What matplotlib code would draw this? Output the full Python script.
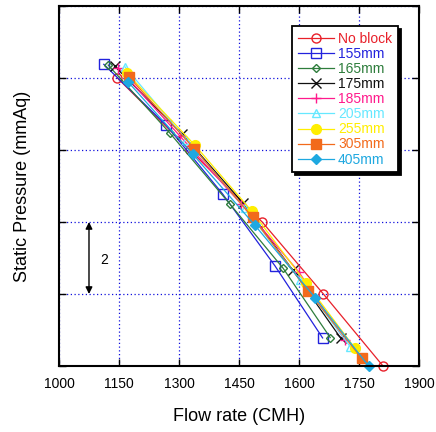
import matplotlib
matplotlib.use('Agg')
from matplotlib import pyplot as plt

plt.rcParams['font.family'] = ['Liberation Sans', 'DejaVu Sans']

# flow rate (CMH) vs static pressure (mmAq) for each block length
labels = ['No block', '155mm', '165mm', '175mm', '185mm', '205mm', '255mm', '305mm', '405mm']
flow = [
    [1146, 1327, 1508, 1661, 1810],
    [1112, 1268, 1409, 1540, 1659],
    [1123, 1278, 1428, 1560, 1678],
    [1139, 1308, 1460, 1584, 1704],
    [1148, 1303, 1456, 1599, 1715],
    [1165, 1318, 1465, 1603, 1728],
    [1170, 1340, 1482, 1618, 1740],
    [1174, 1338, 1484, 1623, 1757],
    [1172, 1334, 1489, 1640, 1774],
]
pressure = [
    [8.00, 6.00, 4.00, 2.00, 0.00],
    [8.38, 6.69, 4.78, 2.78, 0.78],
    [8.36, 6.46, 4.49, 2.72, 0.79],
    [8.33, 6.44, 4.53, 2.67, 0.78],
    [8.29, 6.38, 4.49, 2.62, 0.71],
    [8.31, 6.29, 4.38, 2.39, 0.54],
    [8.13, 6.13, 4.30, 2.30, 0.49],
    [8.04, 6.04, 4.13, 2.08, 0.21],
    [7.90, 5.89, 3.92, 1.90, 0.00],
]
colors = ['#e8202a', '#2222dd', '#2e7d3c', '#111111', '#ff1a8c',
          '#66e8ff', '#ffee00', '#f26a1b', '#1ea8e0']
markers = ['o', 's', 'D', 'x', '+', '^', 'o', 's', 'D']
filled = [False, False, False, True, True, False, True, True, True]
msizes = [6.5, 6.5, 4, 7, 7, 5.5, 7, 7, 5.5]

xticks = [1000, 1150, 1300, 1450, 1600, 1750, 1900]
yticks = [0, 2, 4, 6, 8, 10]

fig = plt.figure(figsize=(4.36, 4.32), dpi=100)
ax = fig.add_axes([0.1353, 0.1528, 0.8257, 0.8333])

for i in range(len(labels)):
    face = colors[i] if filled[i] else 'none'
    ax.plot(flow[i], pressure[i], color=colors[i], marker=markers[i],
            markersize=msizes[i], markerfacecolor=face, markeredgecolor=colors[i],
            markeredgewidth=1.0, linewidth=0.9, label=labels[i], clip_on=False)

ax.set_xlim(1000, 1900)
ax.set_ylim(0, 10)
ax.set_xticks(xticks)
ax.set_yticks(yticks)
ax.set_yticklabels([])
ax.tick_params(direction='in', length=5, width=1, top=True, right=True,
               labelsize=10, pad=8)
ax.grid(True, color='#1010dd', linestyle=(0, (1, 2)), linewidth=0.9)
for s in ax.spines.values():
    s.set_linewidth(1.5)
    s.set_color('black')

ax.set_xlabel('Flow rate (CMH)', fontsize=13, labelpad=12)
ax.set_ylabel('Static Pressure (mmAq)', fontsize=13, labelpad=12)

# scale arrow: one grid division
ax.annotate('', xy=(1075, 4), xytext=(1075, 2),
            arrowprops=dict(arrowstyle='<|-|>', color='black', lw=1,
                            mutation_scale=10, shrinkA=0, shrinkB=0))
ax.text(1112, 2.95, '2', fontsize=10, ha='center', va='center')

leg = ax.legend(loc='upper right', bbox_to_anchor=(0.941, 0.944), borderaxespad=0,
                fontsize=10, handlelength=2.6, handletextpad=0.3, labelspacing=0.08,
                borderpad=0.4, fancybox=False, framealpha=1, edgecolor='black',
                shadow={'color': 'black', 'alpha': 1})
leg.get_frame().set_linewidth(1.3)
for txt, c in zip(leg.get_texts(), colors):
    txt.set_color(c)

fig.savefig('out.png', dpi=100)
